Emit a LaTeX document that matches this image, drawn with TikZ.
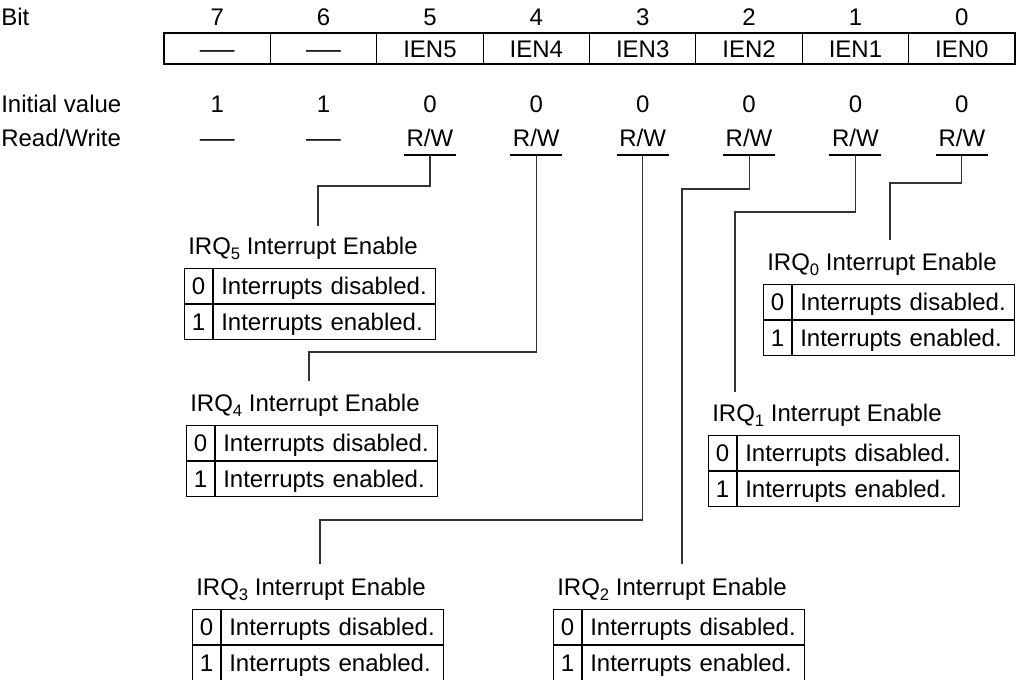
\documentclass[tikz,border=0pt]{standalone}
\usepackage{fontspec}
\usepackage{graphicx}
\setmainfont{Liberation Sans}
\newcommand{\irqsub}[1]{\raisebox{-0.35ex}{\fontsize{12.5}{13}\selectfont #1}}
\newcommand{\wdash}{\scalebox{1.45}[1]{—}}
\begin{document}
\begin{tikzpicture}[x=0.75pt,y=-0.75pt,
  fnt/.style={font=\fontsize{18}{21}\selectfont, text height=12.9pt, text depth=0pt},
  txt/.style={fnt, inner sep=0pt},
  lbl/.style={txt, anchor=west},
  ctr/.style={txt, anchor=center},
  regcell/.style={fnt, draw, line width=0.8pt, minimum width=79.8pt, minimum height=23.25pt, inner sep=0pt},
  conn/.style={line width=0.85pt, draw=black!80},
  uline/.style={line width=0.8pt},
  cellA/.style={fnt, draw, line width=0.8pt, minimum width=21pt, minimum height=26.25pt, inner sep=0pt},
  cellB/.style={fnt, draw, line width=0.8pt, minimum width=166.5pt, text width=155pt, align=left, minimum height=26.25pt, inner xsep=5.75pt, inner ysep=0pt},
]
\useasboundingbox (0,0) rectangle (1028,679);
\clip (0,0) rectangle (1028,679);

% row labels
\node[lbl] (lbit) at (1,17) {Bit};
\node[lbl] (linit) at (1,104) {Initial value};
\node[lbl] (lrw) at (1,138) {Read/Write};

% register
\foreach \i/\n/\v in {7/\wdash/1,6/\wdash/1,5/IEN5/0,4/IEN4/0,3/IEN3/0,2/IEN2/0,1/IEN1/0,0/IEN0/0}{
  \pgfmathsetmacro{\cx}{164+106.375*(7-\i)+53.19}
  \node[ctr] (b\i) at (\cx,17) {\i};
  \node[regcell] (r\i) at (\cx,48.5) {\n};
  \node[ctr] (iv\i) at (\cx,104) {\v};
}
\node[ctr] (rw7) at (r7.center |- 0,138) {\wdash};
\node[ctr] (rw6) at (r6.center |- 0,138) {\wdash};
\foreach \i in {5,4,3,2,1,0}{
  \node[ctr] (rw\i) at (r\i.center |- 0,138) {R/W};
  \coordinate (u\i) at (r\i.center |- 0,155);
  \draw[uline] ([xshift=-19.5pt]u\i) -- ([xshift=19.5pt]u\i);
}

% tables
\newcommand{\irqtab}[4]{%
  \node[lbl] (#1t) at (#2+4,#3) {IRQ\irqsub{#4} Interrupt Enable};
  \node[cellA, anchor=north west] (#1a0) at (#2,#3+22) {0};
  \node[cellB, anchor=north west] (#1b0) at (#1a0.north east) {\mbox{Interrupts disabled.}};
  \node[cellA, anchor=north west] (#1a1) at (#1a0.south west) {1};
  \node[cellB, anchor=north west] (#1b1) at (#1a1.north east) {\mbox{Interrupts enabled.}};
}
\irqtab{q5}{184}{246}{5}
\irqtab{q4}{186}{403}{4}
\irqtab{q3}{192}{587}{3}
\irqtab{q2}{553}{587}{2}
\irqtab{q1}{708}{413}{1}
\irqtab{q0}{763}{262}{0}

% connector ends
\coordinate (e5) at (318,226);
\coordinate (e4) at (309,381);
\coordinate (e3) at (320,564);
\coordinate (e2) at (682,564);
\coordinate (e1) at (735,392);
\coordinate (e0) at (890,240);

\draw[conn] (u5) -- (u5 |- 0,186) -| (e5);
\draw[conn] (u4) -- (u4 |- 0,352) -| (e4);
\draw[conn] (u3) -- (u3 |- 0,520) -| (e3);
\draw[conn] (u2) -- (u2 |- 0,189) -| (e2);
\draw[conn] (u1) -- (u1 |- 0,212) -| (e1);
\draw[conn] (u0) -- (u0 |- 0,183) -| (e0);
\end{tikzpicture}
\end{document}
